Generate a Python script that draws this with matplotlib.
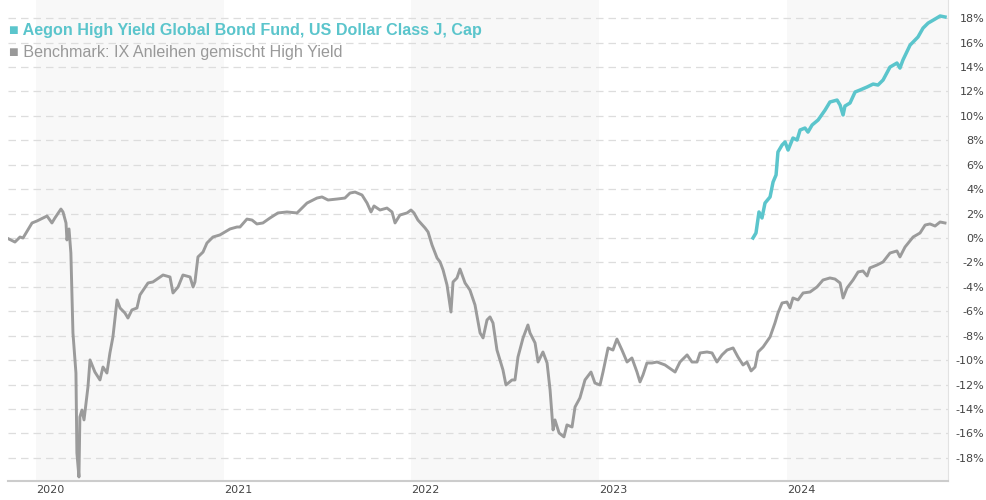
import matplotlib
matplotlib.use("Agg")
import matplotlib.pyplot as plt

# Benchmark: decimal year vs. cumulative performance in %
bench_t = [2019.845, 2019.888, 2019.915, 2019.931, 2019.979, 2020.005, 2020.059, 2020.085,
           2020.101, 2020.133, 2020.144, 2020.160, 2020.165, 2020.176, 2020.186, 2020.192,
           2020.197, 2020.213, 2020.218, 2020.229, 2020.234, 2020.245, 2020.256, 2020.277,
           2020.288, 2020.314, 2020.341, 2020.357, 2020.378, 2020.394, 2020.410, 2020.432,
           2020.448, 2020.474, 2020.490, 2020.511, 2020.538, 2020.554, 2020.597, 2020.623,
           2020.677, 2020.714, 2020.730, 2020.757, 2020.783, 2020.821, 2020.837, 2020.847,
           2020.863, 2020.890, 2020.911, 2020.943, 2020.980, 2021.034, 2021.071, 2021.087,
           2021.124, 2021.151, 2021.177, 2021.209, 2021.247, 2021.289, 2021.337, 2021.391,
           2021.444, 2021.497, 2021.524, 2021.556, 2021.604, 2021.646, 2021.673, 2021.700,
           2021.737, 2021.764, 2021.785, 2021.801, 2021.833, 2021.870, 2021.897, 2021.913,
           2021.939, 2021.977, 2021.998, 2022.014, 2022.035, 2022.073, 2022.089, 2022.110,
           2022.137, 2022.153, 2022.169, 2022.190, 2022.211, 2022.222, 2022.243, 2022.259,
           2022.286, 2022.312, 2022.339, 2022.366, 2022.382, 2022.403, 2022.419, 2022.435,
           2022.456, 2022.472, 2022.488, 2022.504, 2022.536, 2022.552, 2022.568, 2022.595,
           2022.621, 2022.632, 2022.659, 2022.675, 2022.701, 2022.723, 2022.739, 2022.755,
           2022.765, 2022.787, 2022.813, 2022.829, 2022.856, 2022.872, 2022.898, 2022.925,
           2022.957, 2022.978, 2023.005, 2023.021, 2023.048, 2023.074, 2023.095, 2023.122,
           2023.149, 2023.175, 2023.202, 2023.218, 2023.234, 2023.255, 2023.282, 2023.309,
           2023.351, 2023.405, 2023.431, 2023.469, 2023.495, 2023.522, 2023.538, 2023.575,
           2023.602, 2023.628, 2023.655, 2023.682, 2023.714, 2023.740, 2023.767, 2023.788,
           2023.810, 2023.831, 2023.847, 2023.874, 2023.911, 2023.937, 2023.953, 2023.975,
           2024.001, 2024.017, 2024.033, 2024.060, 2024.087, 2024.124, 2024.161, 2024.193,
           2024.230, 2024.257, 2024.284, 2024.300, 2024.321, 2024.353, 2024.380, 2024.406,
           2024.428, 2024.443, 2024.481, 2024.513, 2024.550, 2024.587, 2024.603, 2024.630,
           2024.673, 2024.710, 2024.737, 2024.763, 2024.790, 2024.817, 2024.843]
bench_v = [0.00, -0.33, 0.08, 0.00, 1.23, 1.39, 1.80, 1.23,
           1.64, 2.37, 2.13, 1.23, -0.16, 0.74, -1.23, -4.83,
           -7.77, -11.05, -17.59, -19.56, -14.65, -14.08, -14.89, -12.19,
           -9.98, -10.97, -11.62, -10.56, -11.05, -9.41, -8.10, -5.07,
           -5.73, -6.14, -6.55, -5.89, -5.73, -4.66, -3.68, -3.60,
           -3.03, -3.19, -4.50, -4.01, -3.03, -3.19, -4.01, -3.60,
           -1.55, -1.15, -0.41, 0.08, 0.25, 0.74, 0.90, 0.90,
           1.55, 1.47, 1.15, 1.23, 1.64, 2.05, 2.13, 2.05,
           2.86, 3.27, 3.36, 3.11, 3.19, 3.27, 3.68, 3.76,
           3.52, 2.86, 2.13, 2.62, 2.29, 2.45, 2.13, 1.23,
           1.88, 2.05, 2.29, 2.05, 1.47, 0.82, 0.49, -0.57,
           -1.64, -1.96, -2.62, -3.85, -6.06, -3.60, -3.27, -2.54,
           -3.68, -4.26, -5.48, -7.77, -8.18, -6.71, -6.46, -6.96,
           -9.17, -9.98, -10.80, -12.03, -11.62, -11.62, -9.74, -8.18,
           -7.12, -7.77, -8.59, -10.15, -9.33, -10.23, -12.44, -15.71,
           -14.89, -15.96, -16.28, -15.30, -15.47, -13.83, -13.09, -11.62,
           -10.97, -11.87, -12.03, -10.97, -9.00, -9.17, -8.27, -9.17,
           -10.15, -9.82, -10.97, -11.78, -11.21, -10.23, -10.23, -10.15,
           -10.39, -10.97, -10.15, -9.57, -10.15, -10.15, -9.41, -9.33,
           -9.41, -10.15, -9.57, -9.17, -9.00, -9.74, -10.39, -10.15,
           -10.88, -10.56, -9.33, -8.92, -8.10, -6.96, -6.14, -5.32,
           -5.24, -5.73, -4.91, -5.07, -4.50, -4.42, -4.01, -3.44,
           -3.27, -3.36, -3.68, -4.91, -4.09, -3.44, -2.78, -2.70,
           -3.11, -2.45, -2.21, -1.96, -1.23, -1.06, -1.55, -0.74,
           0.08, 0.41, 1.06, 1.15, 0.98, 1.31, 1.23]

# Fund (launched late 2023)
fund_t = [2023.820, 2023.836, 2023.852, 2023.868, 2023.884, 2023.911, 2023.927, 2023.943,
          2023.953, 2023.975, 2023.991, 2024.007, 2024.033, 2024.055, 2024.071, 2024.097,
          2024.113, 2024.135, 2024.167, 2024.204, 2024.230, 2024.268, 2024.284, 2024.300,
          2024.310, 2024.337, 2024.364, 2024.390, 2024.428, 2024.460, 2024.486, 2024.513,
          2024.550, 2024.587, 2024.603, 2024.619, 2024.657, 2024.673, 2024.699, 2024.726,
          2024.753, 2024.790, 2024.817, 2024.843]
fund_v = [0.00, 0.41, 2.13, 1.64, 2.86, 3.36, 4.58, 5.16,
          7.04, 7.61, 7.86, 7.20, 8.18, 8.02, 8.84, 9.00,
          8.67, 9.25, 9.66, 10.47, 11.13, 11.29, 10.88, 10.07,
          10.80, 11.05, 11.95, 12.11, 12.36, 12.60, 12.52, 12.93,
          13.99, 14.32, 13.91, 14.57, 15.79, 16.04, 16.45, 17.18,
          17.59, 17.92, 18.17, 18.09]

years = [2020, 2021, 2022, 2023, 2024]
y_ticks = list(range(-18, 19, 2))

fund_name = "Aegon High Yield Global Bond Fund, US Dollar Class J, Cap"
bench_name = "Benchmark: IX Anleihen gemischt High Yield"
fund_color = "#5bc5cc"
bench_color = "#9b9b9b"

fig = plt.figure(figsize=(9.87, 5.0), dpi=100)
ax = fig.add_axes([8 / 987, 19 / 500, 940 / 987, 481 / 500])

x0, x1 = 2019.851, 2024.859
ax.set_xlim(x0, x1)
ax.set_ylim(-19.89, 19.48)

# alternating year bands
for i, yr in enumerate(years):
    if i % 2 == 0:
        ax.axvspan(yr, min(yr + 1, x1), color="#f8f8f8", zorder=0, lw=0)

for v in y_ticks:
    ax.axhline(v, color="#dddddd", lw=0.9, dashes=(6, 4), zorder=1)

ax.plot(bench_t, bench_v, color=bench_color, lw=2.1, zorder=3, solid_joinstyle="round")
ax.plot(fund_t, fund_v, color=fund_color, lw=2.5, zorder=4, solid_joinstyle="round")

for side in ["top", "left"]:
    ax.spines[side].set_visible(False)
ax.spines["bottom"].set_color("#cccccc")
ax.spines["bottom"].set_linewidth(1.5)
ax.spines["right"].set_color("#e2e2e2")
ax.spines["right"].set_linewidth(0.8)

ax.set_yticks(y_ticks)
ax.set_yticklabels([f"{v}%" for v in y_ticks])
ax.yaxis.set_ticks_position("right")
ax.tick_params(axis="y", length=0, pad=26, labelsize=8, labelcolor="#444444")
for lab in ax.get_yticklabels():
    lab.set_horizontalalignment("right")

ax.set_xticks(years)
ax.set_xticklabels([str(y) for y in years])
ax.tick_params(axis="x", length=0, pad=3, labelsize=8, labelcolor="#444444")
for lab in ax.get_xticklabels():
    lab.set_horizontalalignment("left")

fam = ["Liberation Sans", "DejaVu Sans"]
fig.text(9 / 987, 1 - 30 / 500, "\u25a0 " + fund_name, color=fund_color, fontsize=11.6,
         fontweight="bold", family=fam, va="center", ha="left")
fig.text(9 / 987, 1 - 53 / 500, "\u25a0 " + bench_name, color="#999999", fontsize=11.6,
         family=fam, va="center", ha="left")

fig.savefig("out.png", dpi=100)
